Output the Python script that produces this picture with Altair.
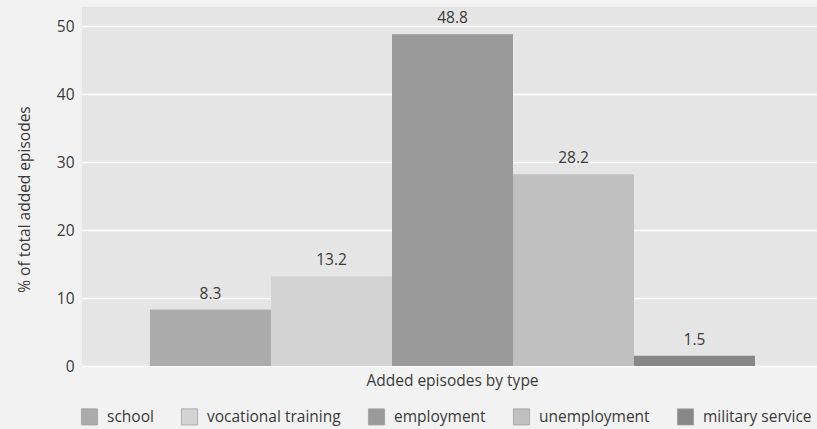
import altair as alt
import pandas as pd

# Share of added episodes, by episode type
episode_types = ["school", "vocational training", "employment", "unemployment", "military service"]
shares = [8.3, 13.2, 48.8, 28.2, 1.5]
fills = ["#ababab", "#d3d3d3", "#9a9a9a", "#c0c0c0", "#878787"]

df = pd.DataFrame({"type": episode_types, "share": shares})

FONT = "Open Sans"
TEXT = "#3a3a3a"
SIZE = 15.5

x = alt.X(
    "type:N",
    sort=episode_types,
    scale=alt.Scale(paddingInner=0, paddingOuter=0.537, align=0.523),
    axis=alt.Axis(
        labels=False, ticks=False, domain=False, grid=False,
        title="Added episodes by type", titleFont=FONT, titleFontSize=SIZE,
        titleFontWeight="normal", titleColor=TEXT, titlePadding=7,
        titleX=370, titleAnchor="middle",
    ),
)
y = alt.Y(
    "share:Q",
    scale=alt.Scale(domain=[0, 52.8], nice=False),
    axis=alt.Axis(
        values=[0, 10, 20, 30, 40, 50], ticks=False, domain=False,
        labelPadding=8, labelFont=FONT, labelFontSize=SIZE, labelColor=TEXT,
        gridColor="white", gridWidth=1.3,
        title="% of total added episodes", titleFont=FONT, titleFontSize=SIZE,
        titleFontWeight="normal", titleColor=TEXT, titleAngle=-90,
        titleBaseline="middle", titleAlign="center", titleX=-58, titleY=192,
    ),
)

bars = alt.Chart(df).mark_bar().encode(
    x=x,
    y=y,
    color=alt.Color(
        "type:N",
        sort=episode_types,
        scale=alt.Scale(domain=episode_types, range=fills),
        legend=alt.Legend(
            orient="none", direction="horizontal", legendX=-1, legendY=401,
            title=None, symbolType="square", symbolSize=260,
            symbolStrokeColor="#a0a0a0", symbolStrokeWidth=0.8,
            labelFont=FONT, labelFontSize=SIZE, labelColor=TEXT,
            labelOffset=9, columnPadding=25,
        ),
    ),
)

labels = alt.Chart(df).mark_text(
    baseline="bottom", dy=-8, font=FONT, fontSize=SIZE, color=TEXT
).encode(
    x=alt.X("type:N", sort=episode_types),
    y="share:Q",
    text=alt.Text("share:Q", format=".1f"),
)

chart = (
    alt.layer(bars, labels)
    .properties(
        width=735,
        height=359,
        autosize=alt.AutoSizeParams(type="none"),
        padding={"left": 82, "top": 7, "right": 0, "bottom": 63},
        background="#f2f2f2",
    )
    .configure_view(fill="#e5e5e5", stroke=None)
)

chart.save("out.html", embed_options={"renderer": "svg", "actions": False})
